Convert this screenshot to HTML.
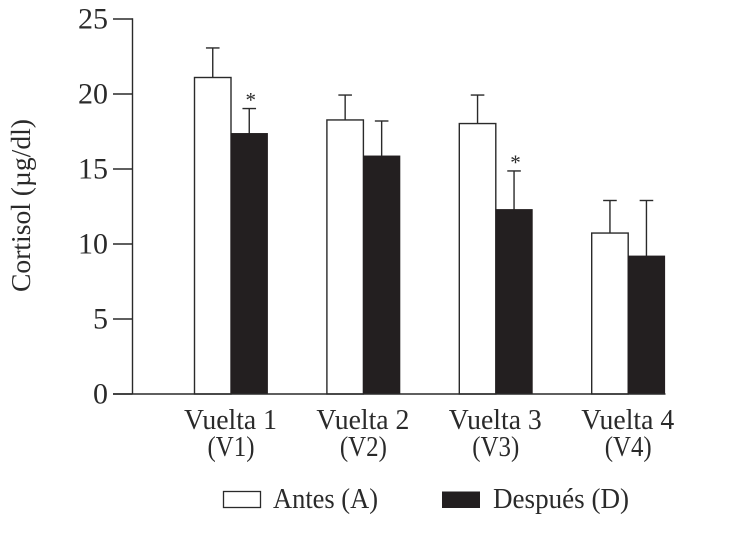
<!DOCTYPE html>
<html lang="es">
<head>
<meta charset="utf-8">
<title>Cortisol</title>
<style>
html,body{margin:0;padding:0;background:#fff;width:730px;height:544px;overflow:hidden}
svg{display:block}
text{font-family:"Liberation Serif",serif;fill:#2a2a2a}
</style>
</head>
<body>
<svg id="chart" width="730" height="544" viewBox="0 0 730 544" xmlns="http://www.w3.org/2000/svg"></svg>
<script>
const categories = ["Vuelta 1", "Vuelta 2", "Vuelta 3", "Vuelta 4"];
const categoryCodes = ["(V1)", "(V2)", "(V3)", "(V4)"];
const antes = [21.1, 18.27, 18.03, 10.73];
const antesError = [23.07, 19.93, 19.93, 12.9];
const despues = [17.37, 15.87, 12.3, 9.2];
const despuesError = [19.03, 18.2, 14.87, 12.9];
const significant = [true, false, true, false];
const yTicks = [0, 5, 10, 15, 20, 25];

const svg = document.getElementById('chart');
const NS = 'http://www.w3.org/2000/svg';
const INK = '#2a2a2a';
const y = v => 394 - v * 15;
const groupX = i => 194.5 + i * 132.4;
const BAR = 36.5;

function make(tag, attrs, text) {
  const el = document.createElementNS(NS, tag);
  for (const k in attrs) el.setAttribute(k, attrs[k]);
  if (text !== undefined) el.textContent = text;
  svg.appendChild(el);
  return el;
}

yTicks.forEach(t => {
  const tick = make('line', {x1: 113, x2: 132.5, y1: y(t), y2: y(t), stroke: INK, 'stroke-width': 1.4});
  
  
  const label = make('text', {x: 108, y: y(t) + 9.5, 'text-anchor': 'end', 'font-size': 30}, String(t));
  
  
});

const yAxis = make('line', {x1: 132.5, x2: 132.5, y1: y(25) - 0.7, y2: y(0), stroke: INK, 'stroke-width': 1.4});



const yTitle = make('text', {x: 0, y: 0, transform: 'translate(30,205.5) rotate(-90)', 'text-anchor': 'middle', 'font-size': 27, textLength: 173, lengthAdjust: 'spacingAndGlyphs'}, 'Cortisol (µg/dl)');



function errorBar(cx, value, top, name) {
  const stem = make('line', {x1: cx, x2: cx, y1: y(value), y2: y(top), stroke: INK, 'stroke-width': 1.4});
  
  
  const cap = make('line', {x1: cx - 6.8, x2: cx + 6.8, y1: y(top), y2: y(top), stroke: INK, 'stroke-width': 1.4});
  
  
}

categories.forEach((c, i) => {
  const x = groupX(i);
  const n = i + 1;
  errorBar(x + BAR / 2, antes[i], antesError[i], 'antes-v' + n);
  errorBar(x + BAR + BAR / 2, despues[i], despuesError[i], 'despues-v' + n);

  const a = make('rect', {x: x, y: y(antes[i]), width: BAR, height: y(0) - y(antes[i]), fill: '#fff', stroke: INK, 'stroke-width': 1.4});
  
  
  const d = make('rect', {x: x + BAR, y: y(despues[i]), width: BAR, height: y(0) - y(despues[i]), fill: '#231f20', stroke: '#231f20', 'stroke-width': 0.8});
  
  

  if (significant[i]) {
    const star = make('text', {x: x + BAR * 1.5 + 1.5, y: y(despuesError[i]) - 1.5, 'text-anchor': 'middle', 'font-size': 21}, '*');
    
    
  }

  const l1 = make('text', {x: x + BAR - 0.5, y: 429, 'text-anchor': 'middle', 'font-size': 29, textLength: 93, lengthAdjust: 'spacingAndGlyphs'}, c);
  
  
  const l2 = make('text', {x: x + BAR, y: 456, 'text-anchor': 'middle', 'font-size': 29, textLength: 47, lengthAdjust: 'spacingAndGlyphs'}, categoryCodes[i]);
  
  
});

const xAxis = make('line', {x1: 113, x2: 665.5, y1: y(0), y2: y(0), stroke: INK, 'stroke-width': 1.6});



const swatchA = make('rect', {x: 223.5, y: 491.5, width: 37, height: 16, fill: '#fff', stroke: INK, 'stroke-width': 1.3});


const legendA = make('text', {x: 273, y: 508, 'font-size': 29, textLength: 105, lengthAdjust: 'spacingAndGlyphs'}, 'Antes (A)');


const swatchD = make('rect', {x: 442, y: 491.5, width: 38, height: 16.5, fill: '#231f20'});


const legendD = make('text', {x: 493, y: 508, 'font-size': 29, textLength: 136, lengthAdjust: 'spacingAndGlyphs'}, 'Después (D)');


</script>
</body>
</html>
